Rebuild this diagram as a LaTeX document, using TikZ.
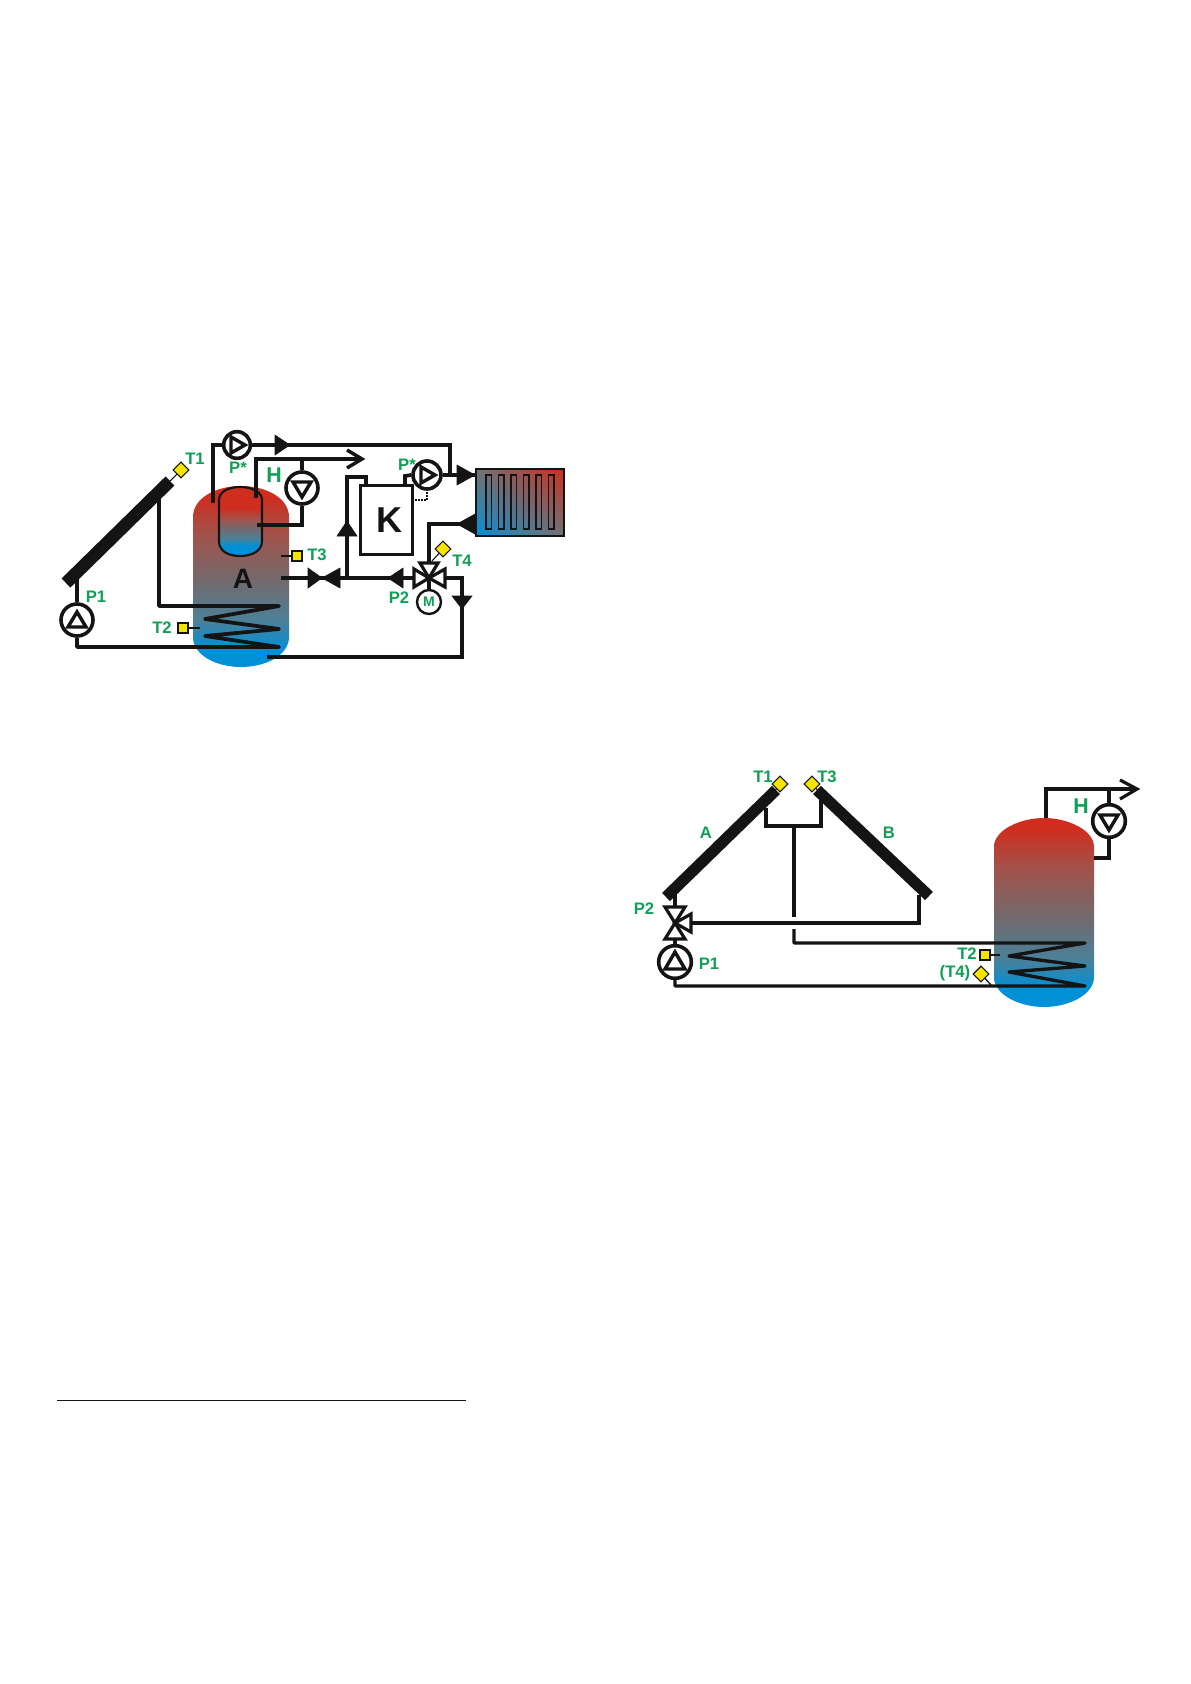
\documentclass[tikz,border=0pt]{standalone}
\usepackage{fontspec}
\setmainfont{Liberation Sans}
\usetikzlibrary{shapes.geometric,shadings}
\definecolor{lblgreen}{HTML}{0FA055}
\definecolor{ink}{HTML}{141414}
\definecolor{sensorY}{HTML}{F5E400}
\definecolor{hot}{HTML}{CF2D1E}
\definecolor{cold}{HTML}{0090D8}
\definecolor{midgray}{HTML}{73696C}
\definecolor{slate}{HTML}{4D8097}
\definecolor{brown}{HTML}{A3524A}
\pgfdeclareverticalshading{tankshade}{100bp}{
 color(0bp)=(cold); color(25bp)=(cold); color(30bp)=(cold);
 color(38bp)=(slate); color(49bp)=(midgray); color(62bp)=(brown);
 color(72bp)=(hot); color(75bp)=(hot); color(100bp)=(hot)}
\pgfdeclareverticalshading{innershade}{100bp}{
 color(0bp)=(cold); color(25bp)=(cold); color(32bp)=(cold);
 color(38bp)=(slate); color(45bp)=(midgray); color(52bp)=(brown);
 color(60bp)=(hot); color(100bp)=(hot)}
\tikzset{
 x=0.75pt,y=-0.75pt,
 pipe/.style={draw=ink,line width=2.8pt,line join=miter},
 pipeB/.style={draw=ink,line width=2.5pt,line join=miter},
 coil/.style={line join=round,line cap=round},
 thinline/.style={draw=ink,line width=0.8pt},
 collector/.style={draw=ink,line width=9.5pt},
 pumpc/.style={circle,draw=ink,fill=white,line width=2.7pt,inner sep=0pt,minimum size=#1},
 pumptri/.style={draw=ink,fill=white,line width=2.6pt,line join=miter},
 solidtri/.style={fill=ink,draw=ink,line width=0.4pt},
 valvetri/.style={draw=ink,fill=white,line width=2.4pt,line join=miter},
 lbl/.style={text=lblgreen,font=\bfseries\fontsize{12.5}{13}\selectfont,inner sep=0pt},
 lblH/.style={text=lblgreen,font=\bfseries\fontsize{16}{17}\selectfont,inner sep=0pt},
 sqsensor/.style={rectangle,draw=ink,fill=sensorY,line width=1.1pt,minimum size=7.5pt,inner sep=0pt},
 diasensor/.style={diamond,draw=ink,fill=sensorY,line width=0.8pt,minimum size=12pt,inner sep=0pt},
 openhead/.style={draw=ink,line width=2.6pt,line join=miter,fill=none},
}
\begin{document}
\begin{tikzpicture}
\useasboundingbox (0,0) rectangle (1191,1684);
\fill[white] (0,0) rectangle (1191,1684);
% ---------- left diagram: tank
\shade[shading=tankshade] (193,637) -- (193,517)
  .. controls (193,498) and (216,486) .. (241,486)
  .. controls (266,486) and (289,498) .. (289,517) -- (289,637)
  .. controls (289,655) and (266,667) .. (241,667)
  .. controls (216,667) and (193,655) .. (193,637) -- cycle;
\shade[shading=innershade,draw=ink,line width=1.6pt] (219,541) -- (219,500)
  .. controls (219,492) and (228,487) .. (240,487)
  .. controls (252,487) and (262,492) .. (262,500) -- (262,541)
  .. controls (262,551) and (252,556) .. (240,556)
  .. controls (228,556) and (219,551) .. (219,541) -- cycle;
% collector
\coordinate (c1a) at (66,583);
\coordinate (c1b) at (170,481);
\draw[collector] (c1a) -- (c1b);
% nodes
\node[pumpc=24pt] (p1) at (77,620) {};
\node[pumpc=20pt] (pstarA) at (237,445) {};
\node[pumpc=24pt] (hA) at (302,488) {};
\node[pumpc=21pt] (pstarB) at (427,475) {};
\node[draw=ink,fill=white,line width=2.7pt,minimum width=39pt,minimum height=52pt,inner sep=0pt] (kbox) at (386.5,520) {};
\node[font=\bfseries\fontsize{27}{28}\selectfont,text=ink,inner sep=0pt] (ktext) at (389,520) {K};
\node[circle,draw=ink,fill=white,line width=1.8pt,minimum size=18pt,inner sep=0pt,text=lblgreen,font=\bfseries\fontsize{10.5}{11}\selectfont] (motor) at (429,602) {M};
% coordinates
\coordinate (v) at (429,578);
\coordinate (hwin) at (256,498);
\coordinate (hwtip) at (362,459);
\coordinate (spine) at (347,578);
\coordinate (riser) at (347,477);
\coordinate (rad1) at (476,475);
\coordinate (rad2) at (476,524);
% pipes
\draw[pipe,coil,line cap=butt] (159,497) -- (159,606) -- (279,606) -- (205,619) -- (279,629) -- (205,636) -- (279,647) -- (77,647) -- (p1.south);
\draw[pipe] (p1.north) -- (77,575);
\draw[pipe] (213,503) -- (213,445) -- (pstarA.west);
\draw[pipe] (pstarA.east) -- (450,445) -- (450,475);
\draw[pipe] (hwin) -- (256,459) -- (hwtip);
\draw[openhead] (347,450) -- (hwtip) -- (347,468);
\draw[pipe] (302,459) -- (hA.north);
\draw[pipe] (hA.south) -- (302,525) -- (257,525);
\draw[pipe] (pstarB.east) -- (rad1);
\draw[pipe] (281,578) -- (v);
\draw[pipe] (spine) -- (riser) -- (366,477) -- (366,485);
\draw[pipe] (405,485) -- (405,476) -- (pstarB.west);
\draw[pipe] (429,563) -- (429,524) -- (rad2);
\draw[pipe] (445,578) -- (462,578) -- (462,657) -- (267,657);
\draw[draw=ink,line width=1.3pt,densely dotted] (415,500) -- (427,500) -- (pstarB.south);
\draw[thinline] (281,556) -- (297,556);
\draw[thinline] (183,628) -- (200,628);
\draw[thinline] (443,549) -- (432,561);
\draw[thinline] (181,470) -- (170,481);
% pump triangles
\draw[pumptri] (77,612) -- (86,627) -- (68,627) -- cycle;
\draw[pumptri] (231,437) -- (245,445) -- (231,453) -- cycle;
\draw[pumptri] (293,482) -- (311,482) -- (302,497) -- cycle;
\draw[pumptri] (421,467) -- (435,475) -- (421,483) -- cycle;
% solid arrows
\fill[solidtri] (275,435) -- (290,445) -- (275,455) -- cycle;
\fill[solidtri] (308,568) -- (322,578) -- (308,588) -- cycle;
\fill[solidtri] (340,568) -- (322,578) -- (340,588) -- cycle;
\fill[solidtri] (403,568) -- (388,578) -- (403,588) -- cycle;
\fill[solidtri] (347,521) -- (357,536) -- (337,536) -- cycle;
\fill[solidtri] (457,465) -- (475,475) -- (457,485) -- cycle;
\fill[solidtri] (475,514) -- (457,524) -- (475,534) -- cycle;
\fill[solidtri] (452,596) -- (472,596) -- (462,609) -- cycle;
% three-way valve
\draw[valvetri] (v) -- (414,569) -- (414,587) -- cycle;
\draw[valvetri] (v) -- (445,569) -- (445,587) -- cycle;
\draw[valvetri] (v) -- (420,563) -- (438,563) -- cycle;
\draw[pipe] (v) -- (motor.north);
% radiator
\shade[lower left=cold,upper right=hot,lower right=gray!90!black,upper left=gray!90!black] (476,469) rectangle (564,536);
\draw[draw=ink,line width=1.7pt] (476,469) rectangle (564,536);
\foreach \rx in {486,498.5,511,523.5,536,548.5}
  \draw[draw=ink,line width=1.2pt] (\rx,475) rectangle (\rx+5.5,529);
% sensors
\node[diasensor] (t1s) at (181,470) {};
\node[sqsensor] (t3s) at (297,556) {};
\node[sqsensor] (t2s) at (183,628) {};
\node[diasensor] (t4s) at (443,549) {};
% labels
\node[lbl] (lt1) at (195,459) {T1};
\node[lbl] (lps1) at (238,468) {P*};
\node[lblH] (lh1) at (274,475) {H};
\node[lbl] (lt3) at (317,555) {T3};
\node[font=\bfseries\fontsize{21}{22}\selectfont,text=ink,inner sep=0pt] (la) at (243,579) {A};
\node[lbl] (lp1) at (96,597) {P1};
\node[lbl] (lt2) at (162,628) {T2};
\node[lbl] (lt4) at (462,561) {T4};
\node[lbl] (lp2) at (399,598) {P2};
\node[lbl] (lps2) at (407,465) {P*};
% ---------- right diagram
\shade[shading=tankshade] (994,977) -- (994,847)
  .. controls (994,830) and (1020,818) .. (1044,818)
  .. controls (1068,818) and (1094,830) .. (1094,847) -- (1094,977)
  .. controls (1094,995) and (1068,1007) .. (1044,1007)
  .. controls (1020,1007) and (994,995) .. (994,977) -- cycle;
\coordinate (ca1) at (666,897);
\coordinate (ca2) at (776,790);
\coordinate (cb1) at (817,790);
\coordinate (cb2) at (929,896);
\draw[collector,line width=8.5pt] (ca1) -- (ca2);
\draw[collector,line width=8.5pt] (cb1) -- (cb2);
\node[pumpc=24.5pt] (p1b) at (675,962) {};
\node[pumpc=24.5pt] (hb) at (1109,821) {};
\coordinate (vb) at (675,923);
\coordinate (ctee) at (794,826);
\coordinate (ctop) at (1046,818);
\coordinate (tipb) at (1137,789);
\draw[pipeB] (766,808) -- (766,826) -- (821,826) -- (821,798);
\draw[pipeB] (ctee) -- (794,917);
\draw[pipeB,coil,line cap=butt] (794,929) -- (794,943) -- (1085,943) -- (1009,956) -- (1085,966) -- (1009,972) -- (1085,986) -- (675,986) -- (p1b.south);
\draw[pipeB] (691,923) -- (919,923) -- (919,895);
\draw[pipeB] (675,893) -- (675,907);
\draw[pipeB] (675,939) -- (p1b.north);
\draw[pipeB] (ctop) -- (1046,789) -- (tipb);
\draw[openhead,line width=2.4pt] (1120,780) -- (tipb) -- (1120,799);
\draw[pipeB] (1109,789) -- (hb.north);
\draw[pipeB] (hb.south) -- (1109,858) -- (1094,858);
\draw[pumptri] (675,952) -- (685,969) -- (665,969) -- cycle;
\draw[pumptri] (1100,815) -- (1118,815) -- (1109,830) -- cycle;
\draw[valvetri] (vb) -- (665,907) -- (685,907) -- cycle;
\draw[valvetri] (vb) -- (665,939) -- (685,939) -- cycle;
\draw[valvetri] (vb) -- (691,914) -- (691,932) -- cycle;
\draw[thinline] (985,955) -- (1000,955);
\draw[thinline,line width=1pt] (981,974) -- (991,985);
\draw[thinline] (780,784) -- (774,792);
\draw[thinline] (812,784) -- (819,792);
\node[diasensor] (t1b) at (780,784) {};
\node[diasensor] (t3b) at (812,784) {};
\node[sqsensor] (t2b) at (985,955) {};
\node[diasensor] (t4b) at (981,974) {};
\node[lbl] (lt1b) at (763,777) {T1};
\node[lbl] (lt3b) at (827,777) {T3};
\node[lbl] (lab) at (706,833) {A};
\node[lbl] (lbb) at (889,833) {B};
\node[lbl] (lp2b) at (644,909) {P2};
\node[lbl] (lp1b) at (709,964) {P1};
\node[lblH] (lhb) at (1081,806) {H};
\node[lbl] (lt2b) at (967,954) {T2};
\node[lbl] (lt4b) at (955,973) {(T4)};
% footnote rule
\coordinate (ruleL) at (57,1400);
\coordinate (ruleR) at (466,1400);
\draw[draw=ink,line width=0.7pt] (ruleL) -- (ruleR);
\end{tikzpicture}
\end{document}
